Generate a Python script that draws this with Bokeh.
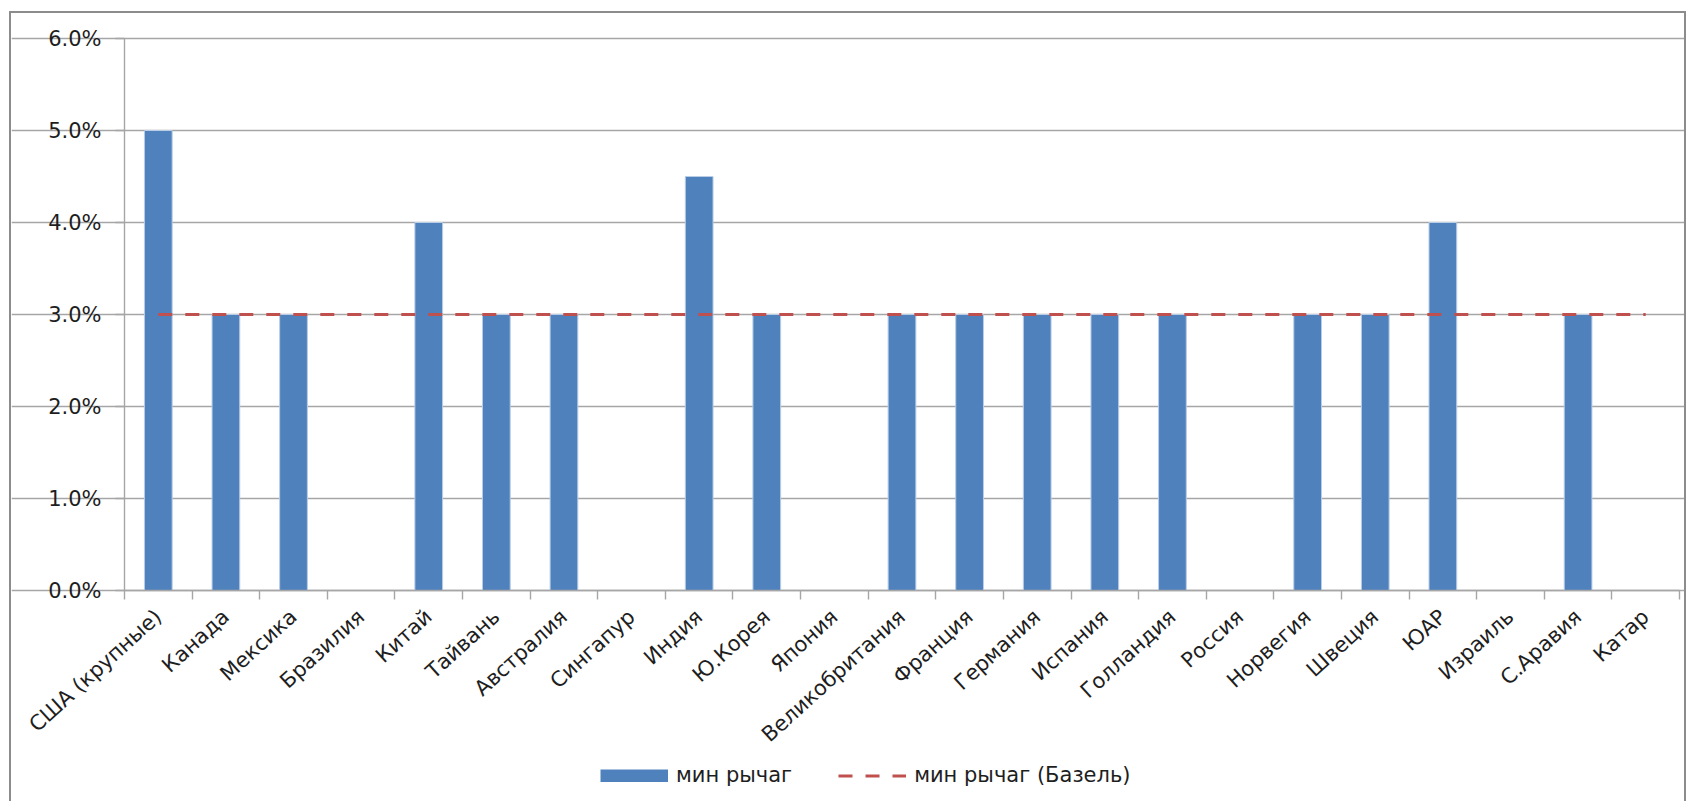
import math
from bokeh.plotting import figure
from bokeh.models import (ColumnDataSource, FixedTicker, NumeralTickFormatter,
                          Legend, LegendItem, Range1d)
from bokeh.embed import file_html
from bokeh.resources import INLINE

categories = ["США (крупные)", "Канада", "Мексика", "Бразилия", "Китай", "Тайвань",
              "Австралия", "Сингапур", "Индия", "Ю.Корея", "Япония", "Великобритания",
              "Франция", "Германия", "Испания", "Голландия", "Россия", "Норвегия",
              "Швеция", "ЮАР", "Израиль", "С.Аравия", "Катар"]
min_leverage = [0.05, 0.03, 0.03, None, 0.04, 0.03, 0.03, None, 0.045, 0.03, None, 0.03,
                0.03, 0.03, 0.03, 0.03, None, 0.03, 0.03, 0.04, None, 0.03, None]
basel = [0.03, 0.03, 0.03, 0.03, 0.03, 0.03, 0.03, 0.03, 0.03, 0.03, 0.03, 0.03,
         0.03, 0.03, 0.03, 0.03, 0.03, 0.03, 0.03, 0.03, 0.03, 0.03, 0.03]
y_ticks = [0.0, 0.01, 0.02, 0.03, 0.04, 0.05, 0.06]
series_names = ["мин рычаг", "мин рычаг (Базель)"]

FONT = "DejaVu Sans"
TXT = "#1e1e1e"
GRID = "#a6a6a6"
BLUE = "#4F81BD"
RED = "#C0504D"

n = len(categories)
centers = [i + 0.5 for i in range(n)]
boundaries = [float(i) for i in range(n + 1)]

bar_src = ColumnDataSource(dict(
    x=[c for c, v in zip(centers, min_leverage) if v is not None],
    top=[v for v in min_leverage if v is not None],
))
line_src = ColumnDataSource(dict(x=centers, y=basel))

# Canvas 1677x790 (inside a border). The frame fills the canvas; the value area
# spans x 113..1668 and y 25..577 (canvas px); axes are pinned at 0.
W, H = 1677, 790
AX_L, AX_R, AX_T, AX_B = 113, 1668, 25, 577
px_x = (AX_R - AX_L) / n
px_y = (AX_B - AX_T) / (y_ticks[-1] - y_ticks[0])
x_start, x_end = -AX_L / px_x, n + (W - AX_R) / px_x
y_start, y_end = -(H - AX_B) / px_y, y_ticks[-1] + AX_T / px_y

p = figure(width=W, height=H, output_backend="svg", toolbar_location=None,
           x_range=Range1d(x_start, x_end), y_range=Range1d(y_start, y_end),
           min_border_left=0, min_border_right=0, min_border_top=0,
           min_border_bottom=0)
p.styles = {"margin-left": "9px", "margin-top": "11px",
            "border-left": "2px solid #8c8c8c", "border-top": "2px solid #8c8c8c",
            "border-right": "2px solid #8c8c8c"}
p.outline_line_color = None
p.background_fill_color = "white"
p.border_fill_color = "white"

bars = p.vbar(x="x", top="top", bottom=0, width=0.41, source=bar_src,
              fill_color=BLUE, line_color="#b9cde6", line_width=1)
line = p.line(x="x", y="y", source=line_src, line_color=RED, line_width=3.2,
              line_dash="14 13")
# legend key for the bars: a solid block drawn as a thick stroke (no visible data)
nan = float("nan")
bar_key = p.line(x=[nan], y=[nan], line_color=BLUE, line_width=13, line_cap="butt")

p.xgrid.visible = False
p.ygrid.ticker = FixedTicker(ticks=y_ticks)
p.ygrid.bounds = (0, n)
p.ygrid.grid_line_color = GRID
p.ygrid.grid_line_width = 1.4

yax = p.yaxis[0]
yax.fixed_location = 0
yax.ticker = FixedTicker(ticks=y_ticks)
yax.bounds = (y_ticks[0], y_ticks[-1])
yax.formatter = NumeralTickFormatter(format="0.0%")
yax.axis_line_color = GRID
yax.axis_line_width = 1.4
yax.major_tick_line_color = GRID
yax.major_tick_line_width = 1.4
yax.major_tick_out = 9
yax.major_tick_in = 0
yax.minor_tick_line_color = None
yax.major_label_standoff = 14
yax.major_label_text_font = FONT
yax.major_label_text_font_size = "21px"
yax.major_label_text_color = TXT

xax = p.xaxis[0]
xax.fixed_location = 0
xax.bounds = (0, n)
xax.ticker = FixedTicker(ticks=centers, minor_ticks=boundaries)
xax.major_label_overrides = {c: name for c, name in zip(centers, categories)}
xax.axis_line_color = GRID
xax.axis_line_width = 1.4
xax.major_tick_line_color = None
xax.major_tick_out = 9
xax.major_tick_in = 0
xax.minor_tick_line_color = GRID
xax.minor_tick_line_width = 1.4
xax.minor_tick_out = 9
xax.minor_tick_in = 0
xax.major_label_orientation = math.atan(1 / 1.1)
xax.major_label_standoff = 14
xax.major_label_text_font = FONT
xax.major_label_text_font_size = "21px"
xax.major_label_text_color = TXT

legend = Legend(items=[LegendItem(label=series_names[0], renderers=[bar_key]),
                       LegendItem(label=series_names[1], renderers=[line])],
                orientation="horizontal", location=(589, 16),
                border_line_color=None, background_fill_alpha=0,
                glyph_width=68, glyph_height=13, label_standoff=8, spacing=46,
                padding=0, margin=0, label_text_font=FONT,
                label_text_font_size="21px", label_text_color=TXT)
p.add_layout(legend)

open("out.html", "w").write(file_html(p, INLINE))
